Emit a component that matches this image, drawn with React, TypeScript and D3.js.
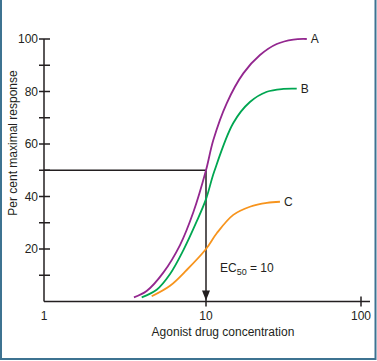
import React from 'react';
import * as d3 from 'd3';

// agonist concentration (x) and % maximal response (y)
const concA = [3.59, 4.3, 5.45, 6.91, 8.35, 10, 11.15, 13.6, 17.4, 22.3, 28.6, 36.6, 44.7];
const respA = [1.6, 4.0, 11.0, 21.5, 34.0, 50.0, 61.5, 75.5, 86.9, 93.9, 98.1, 99.8, 100];
const concB = [4.01, 4.96, 6.0, 7.24, 8.76, 10, 11.3, 15.0, 19.2, 24.7, 31.6, 38.5];
const respB = [1.6, 4.5, 10.5, 19.5, 30.5, 39.0, 49.5, 68.0, 76.0, 79.9, 81.0, 81.1];
const concC = [4.62, 6.0, 7.6, 10, 11.73, 15.0, 19.2, 24.7, 30.0];
const respC = [2.0, 6.0, 12.0, 20.0, 26.0, 33.0, 36.1, 37.6, 38.0];

const curveNames = ['A', 'B', 'C'];
const curveColors = ['#93278f', '#00a651', '#f7941d'];

const yTicksMajor = [20, 40, 60, 80, 100];
const yTicksMinor = [10, 30, 50, 70, 90];
const xTicks = [1, 10, 100];
const ec50 = 10;

const font = '"Liberation Sans", Arial, sans-serif';
const ink = '#231f20';

export default function App() {
  const x = d3.scaleLog().domain([1, 10, 100]).range([44, 206, 361]);
  const y = d3.scaleLinear().domain([0, 100]).range([301.5, 39]);

  const series = [
    concA.map((c, i) => [c, respA[i]]),
    concB.map((c, i) => [c, respB[i]]),
    concC.map((c, i) => [c, respC[i]]),
  ];

  const line = d3.line<number[]>()
    .x(d => x(d[0]))
    .y(d => y(d[1]))
    .curve(d3.curveCatmullRom.alpha(0.5));

  const x0 = x(1);
  const y0 = y(0);

  return (
    <svg width={377} height={361} style={{ position: 'absolute', left: 0, top: 0, display: 'block' }}
      fontFamily={font}>
      <rect x={0} y={0} width={377} height={361} fill="#fff" />
      {/* frame */}
      <path d="M1,-2 V359 H375.5 V-2" fill="none" stroke="#3e7391" strokeWidth={2} />

      {/* y axis */}
      <line x1={x0} x2={x0} y1={y(100)} y2={y0} stroke={ink} strokeWidth={1.5} />
      {yTicksMajor.concat(yTicksMinor).map(t => (
        <line key={'yt' + t} x1={x0 - 5} x2={x0 + 6} y1={y(t)} y2={y(t)} stroke={ink} strokeWidth={1.5} />
      ))}
      {yTicksMajor.map(t => (
        <text key={'yl' + t} x={x0 - 6} y={y(t)} dy="0.35em" textAnchor="end" fontSize={12} fill={ink}>{t}</text>
      ))}
      <text transform={`translate(13,${143}) rotate(-90)`} textAnchor="middle" dy="0.35em"
        fontSize={12} fill={ink}>Per cent maximal response</text>

      {/* x axis */}
      <line x1={x0} x2={370} y1={y0} y2={y0} stroke={ink} strokeWidth={1.5} />
      {xTicks.slice(1).map(t => (
        <line key={'xt' + t} x1={x(t)} x2={x(t)} y1={y0 - 5} y2={y0 + 5} stroke={ink} strokeWidth={1.5} />
      ))}
      {xTicks.map(t => (
        <text key={'xl' + t} x={x(t)} y={320} textAnchor="middle" fontSize={12} fill={ink}>{t}</text>
      ))}
      <text x={223} y={336} textAnchor="middle" fontSize={12} fill={ink}>Agonist drug concentration</text>

      {/* EC50 guide lines */}
      <line x1={x0} x2={x(ec50)} y1={y(50)} y2={y(50)} stroke={ink} strokeWidth={1.5} />
      <line x1={x(ec50)} x2={x(ec50)} y1={y(50)} y2={y0 - 8} stroke={ink} strokeWidth={1.5} />
      <path d={`M${x(ec50) - 4},${y0 - 11} L${x(ec50) + 4},${y0 - 11} L${x(ec50)},${y0 - 1} Z`} fill={ink} />

      {/* curves */}
      {series.map((s, i) => (
        <g key={curveNames[i]}>
          <path d={line(s) || ''} fill="none" stroke={curveColors[i]} strokeWidth={1.8} />
          <text x={x(s[s.length - 1][0]) + 4} y={y(s[s.length - 1][1])} dy="0.35em"
            fontSize={12} fill={ink}>{curveNames[i]}</text>
        </g>
      ))}

      <text x={220} y={272} fontSize={12} fill={ink}>
        EC<tspan fontSize={9} dy={3}>50</tspan><tspan dy={-3}> = 10</tspan>
      </text>
    </svg>
  );
}
